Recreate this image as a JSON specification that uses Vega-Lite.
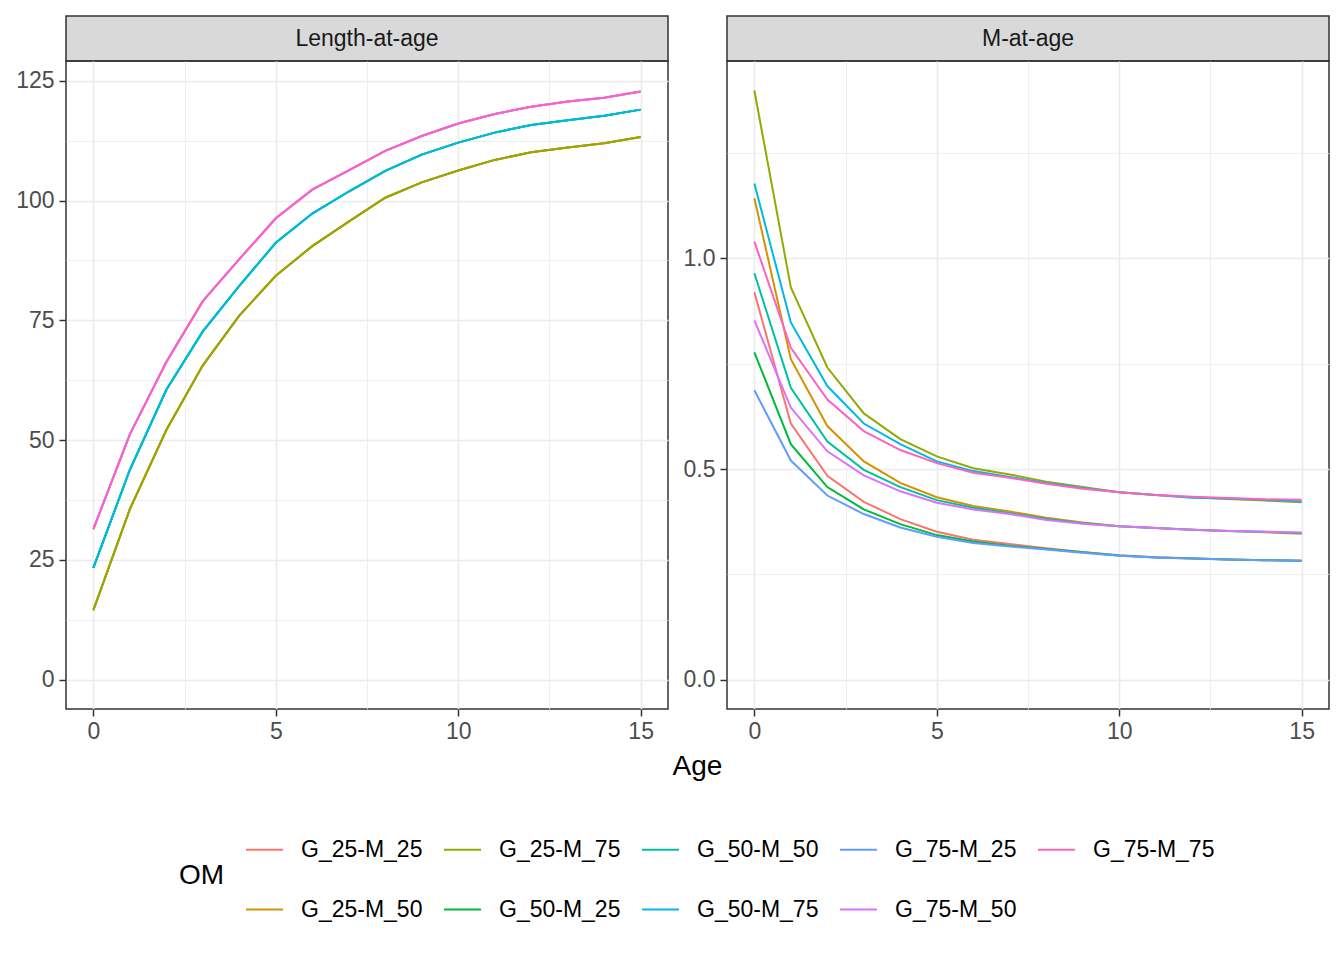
{
  "$schema": "https://vega.github.io/schema/vega-lite/v6.json",
  "padding": {"left": 14, "top": 15, "right": 15, "bottom": 10},
  "config": {
    "font": "Liberation Sans",
    "view": {"stroke": "#333333", "strokeWidth": 1.5},
    "axis": {
      "domain": false,
      "gridColor": "#EBEBEB",
      "labelFontSize": 23,
      "labelColor": "#4D4D4D",
      "labelFont": "Liberation Sans",
      "tickColor": "#333333",
      "tickSize": 7,
      "tickWidth": 1.5,
      "labelPadding": 5,
      "titleFont": "Liberation Sans",
      "titleFontSize": 28,
      "titleFontWeight": "normal",
      "titleColor": "#000000"
    },
    "legend": {
      "labelFont": "Liberation Sans",
      "titleFont": "Liberation Sans"
    }
  },
  "datasets": {
    "om": [
      {"OM":"G_25-M_25","Age":0,"L":14.5,"M":0.920},{"OM":"G_25-M_25","Age":1,"L":35.6,"M":0.608},{"OM":"G_25-M_25","Age":2,"L":52.1,"M":0.484},{"OM":"G_25-M_25","Age":3,"L":65.6,"M":0.422},{"OM":"G_25-M_25","Age":4,"L":76.0,"M":0.381},{"OM":"G_25-M_25","Age":5,"L":84.3,"M":0.351},{"OM":"G_25-M_25","Age":6,"L":90.5,"M":0.332},{"OM":"G_25-M_25","Age":7,"L":95.6,"M":0.322},{"OM":"G_25-M_25","Age":8,"L":100.6,"M":0.312},{"OM":"G_25-M_25","Age":9,"L":103.8,"M":0.303},{"OM":"G_25-M_25","Age":10,"L":106.3,"M":0.295},{"OM":"G_25-M_25","Age":11,"L":108.5,"M":0.2905},{"OM":"G_25-M_25","Age":12,"L":110.1,"M":0.288},{"OM":"G_25-M_25","Age":13,"L":111.1,"M":0.285},{"OM":"G_25-M_25","Age":14,"L":112.0,"M":0.2835},{"OM":"G_25-M_25","Age":15,"L":113.3,"M":0.282},
      {"OM":"G_25-M_50","Age":0,"L":14.5,"M":1.143},{"OM":"G_25-M_50","Age":1,"L":35.6,"M":0.761},{"OM":"G_25-M_50","Age":2,"L":52.1,"M":0.602},{"OM":"G_25-M_50","Age":3,"L":65.6,"M":0.518},{"OM":"G_25-M_50","Age":4,"L":76.0,"M":0.467},{"OM":"G_25-M_50","Age":5,"L":84.3,"M":0.433},{"OM":"G_25-M_50","Age":6,"L":90.5,"M":0.412},{"OM":"G_25-M_50","Age":7,"L":95.6,"M":0.399},{"OM":"G_25-M_50","Age":8,"L":100.6,"M":0.384},{"OM":"G_25-M_50","Age":9,"L":103.8,"M":0.373},{"OM":"G_25-M_50","Age":10,"L":106.3,"M":0.364},{"OM":"G_25-M_50","Age":11,"L":108.5,"M":0.360},{"OM":"G_25-M_50","Age":12,"L":110.1,"M":0.356},{"OM":"G_25-M_50","Age":13,"L":111.1,"M":0.353},{"OM":"G_25-M_50","Age":14,"L":112.0,"M":0.350},{"OM":"G_25-M_50","Age":15,"L":113.3,"M":0.346},
      {"OM":"G_25-M_75","Age":0,"L":14.5,"M":1.399},{"OM":"G_25-M_75","Age":1,"L":35.6,"M":0.931},{"OM":"G_25-M_75","Age":2,"L":52.1,"M":0.741},{"OM":"G_25-M_75","Age":3,"L":65.6,"M":0.632},{"OM":"G_25-M_75","Age":4,"L":76.0,"M":0.571},{"OM":"G_25-M_75","Age":5,"L":84.3,"M":0.530},{"OM":"G_25-M_75","Age":6,"L":90.5,"M":0.502},{"OM":"G_25-M_75","Age":7,"L":95.6,"M":0.487},{"OM":"G_25-M_75","Age":8,"L":100.6,"M":0.470},{"OM":"G_25-M_75","Age":9,"L":103.8,"M":0.457},{"OM":"G_25-M_75","Age":10,"L":106.3,"M":0.445},{"OM":"G_25-M_75","Age":11,"L":108.5,"M":0.438},{"OM":"G_25-M_75","Age":12,"L":110.1,"M":0.433},{"OM":"G_25-M_75","Age":13,"L":111.1,"M":0.429},{"OM":"G_25-M_75","Age":14,"L":112.0,"M":0.425},{"OM":"G_25-M_75","Age":15,"L":113.3,"M":0.421},
      {"OM":"G_50-M_25","Age":0,"L":23.3,"M":0.777},{"OM":"G_50-M_25","Age":1,"L":43.8,"M":0.559},{"OM":"G_50-M_25","Age":2,"L":60.5,"M":0.457},{"OM":"G_50-M_25","Age":3,"L":72.7,"M":0.404},{"OM":"G_50-M_25","Age":4,"L":82.2,"M":0.369},{"OM":"G_50-M_25","Age":5,"L":91.2,"M":0.343},{"OM":"G_50-M_25","Age":6,"L":97.3,"M":0.328},{"OM":"G_50-M_25","Age":7,"L":101.9,"M":0.318},{"OM":"G_50-M_25","Age":8,"L":106.2,"M":0.310},{"OM":"G_50-M_25","Age":9,"L":109.6,"M":0.302},{"OM":"G_50-M_25","Age":10,"L":112.1,"M":0.2945},{"OM":"G_50-M_25","Age":11,"L":114.2,"M":0.290},{"OM":"G_50-M_25","Age":12,"L":115.8,"M":0.2875},{"OM":"G_50-M_25","Age":13,"L":116.8,"M":0.285},{"OM":"G_50-M_25","Age":14,"L":117.7,"M":0.2835},{"OM":"G_50-M_25","Age":15,"L":119.0,"M":0.282},
      {"OM":"G_50-M_50","Age":0,"L":23.3,"M":0.965},{"OM":"G_50-M_50","Age":1,"L":43.8,"M":0.693},{"OM":"G_50-M_50","Age":2,"L":60.5,"M":0.565},{"OM":"G_50-M_50","Age":3,"L":72.7,"M":0.498},{"OM":"G_50-M_50","Age":4,"L":82.2,"M":0.457},{"OM":"G_50-M_50","Age":5,"L":91.2,"M":0.426},{"OM":"G_50-M_50","Age":6,"L":97.3,"M":0.408},{"OM":"G_50-M_50","Age":7,"L":101.9,"M":0.395},{"OM":"G_50-M_50","Age":8,"L":106.2,"M":0.381},{"OM":"G_50-M_50","Age":9,"L":109.6,"M":0.371},{"OM":"G_50-M_50","Age":10,"L":112.1,"M":0.364},{"OM":"G_50-M_50","Age":11,"L":114.2,"M":0.360},{"OM":"G_50-M_50","Age":12,"L":115.8,"M":0.356},{"OM":"G_50-M_50","Age":13,"L":116.8,"M":0.353},{"OM":"G_50-M_50","Age":14,"L":117.7,"M":0.351},{"OM":"G_50-M_50","Age":15,"L":119.0,"M":0.348},
      {"OM":"G_50-M_75","Age":0,"L":23.3,"M":1.178},{"OM":"G_50-M_75","Age":1,"L":43.8,"M":0.848},{"OM":"G_50-M_75","Age":2,"L":60.5,"M":0.697},{"OM":"G_50-M_75","Age":3,"L":72.7,"M":0.608},{"OM":"G_50-M_75","Age":4,"L":82.2,"M":0.559},{"OM":"G_50-M_75","Age":5,"L":91.2,"M":0.518},{"OM":"G_50-M_75","Age":6,"L":97.3,"M":0.495},{"OM":"G_50-M_75","Age":7,"L":101.9,"M":0.481},{"OM":"G_50-M_75","Age":8,"L":106.2,"M":0.467},{"OM":"G_50-M_75","Age":9,"L":109.6,"M":0.455},{"OM":"G_50-M_75","Age":10,"L":112.1,"M":0.445},{"OM":"G_50-M_75","Age":11,"L":114.2,"M":0.438},{"OM":"G_50-M_75","Age":12,"L":115.8,"M":0.432},{"OM":"G_50-M_75","Age":13,"L":116.8,"M":0.430},{"OM":"G_50-M_75","Age":14,"L":117.7,"M":0.427},{"OM":"G_50-M_75","Age":15,"L":119.0,"M":0.423},
      {"OM":"G_75-M_25","Age":0,"L":31.4,"M":0.687},{"OM":"G_75-M_25","Age":1,"L":51.2,"M":0.520},{"OM":"G_75-M_25","Age":2,"L":66.3,"M":0.437},{"OM":"G_75-M_25","Age":3,"L":79.0,"M":0.393},{"OM":"G_75-M_25","Age":4,"L":87.8,"M":0.361},{"OM":"G_75-M_25","Age":5,"L":96.3,"M":0.339},{"OM":"G_75-M_25","Age":6,"L":102.3,"M":0.324},{"OM":"G_75-M_25","Age":7,"L":106.3,"M":0.316},{"OM":"G_75-M_25","Age":8,"L":110.4,"M":0.309},{"OM":"G_75-M_25","Age":9,"L":113.5,"M":0.301},{"OM":"G_75-M_25","Age":10,"L":116.1,"M":0.294},{"OM":"G_75-M_25","Age":11,"L":118.1,"M":0.290},{"OM":"G_75-M_25","Age":12,"L":119.6,"M":0.2875},{"OM":"G_75-M_25","Age":13,"L":120.7,"M":0.285},{"OM":"G_75-M_25","Age":14,"L":121.5,"M":0.2835},{"OM":"G_75-M_25","Age":15,"L":122.8,"M":0.282},
      {"OM":"G_75-M_50","Age":0,"L":31.4,"M":0.853},{"OM":"G_75-M_50","Age":1,"L":51.2,"M":0.646},{"OM":"G_75-M_50","Age":2,"L":66.3,"M":0.542},{"OM":"G_75-M_50","Age":3,"L":79.0,"M":0.485},{"OM":"G_75-M_50","Age":4,"L":87.8,"M":0.447},{"OM":"G_75-M_50","Age":5,"L":96.3,"M":0.420},{"OM":"G_75-M_50","Age":6,"L":102.3,"M":0.404},{"OM":"G_75-M_50","Age":7,"L":106.3,"M":0.393},{"OM":"G_75-M_50","Age":8,"L":110.4,"M":0.379},{"OM":"G_75-M_50","Age":9,"L":113.5,"M":0.370},{"OM":"G_75-M_50","Age":10,"L":116.1,"M":0.364},{"OM":"G_75-M_50","Age":11,"L":118.1,"M":0.360},{"OM":"G_75-M_50","Age":12,"L":119.6,"M":0.356},{"OM":"G_75-M_50","Age":13,"L":120.7,"M":0.353},{"OM":"G_75-M_50","Age":14,"L":121.5,"M":0.351},{"OM":"G_75-M_50","Age":15,"L":122.8,"M":0.349},
      {"OM":"G_75-M_75","Age":0,"L":31.4,"M":1.040},{"OM":"G_75-M_75","Age":1,"L":51.2,"M":0.788},{"OM":"G_75-M_75","Age":2,"L":66.3,"M":0.665},{"OM":"G_75-M_75","Age":3,"L":79.0,"M":0.590},{"OM":"G_75-M_75","Age":4,"L":87.8,"M":0.545},{"OM":"G_75-M_75","Age":5,"L":96.3,"M":0.514},{"OM":"G_75-M_75","Age":6,"L":102.3,"M":0.491},{"OM":"G_75-M_75","Age":7,"L":106.3,"M":0.479},{"OM":"G_75-M_75","Age":8,"L":110.4,"M":0.465},{"OM":"G_75-M_75","Age":9,"L":113.5,"M":0.453},{"OM":"G_75-M_75","Age":10,"L":116.1,"M":0.445},{"OM":"G_75-M_75","Age":11,"L":118.1,"M":0.438},{"OM":"G_75-M_75","Age":12,"L":119.6,"M":0.434},{"OM":"G_75-M_75","Age":13,"L":120.7,"M":0.431},{"OM":"G_75-M_75","Age":14,"L":121.5,"M":0.428},{"OM":"G_75-M_75","Age":15,"L":122.8,"M":0.427}
    ]
  },
  "columns": 2,
  "spacing": {"row": 0, "column": 59},
  "bounds": "flush",
  "concat": [
    {
      "width": 602, "height": 45,
      "data": {"values": [{"panel": "Length-at-age"}]},
      "mark": {"type": "text", "fontSize": 23, "color": "#1A1A1A", "font": "Liberation Sans"},
      "encoding": {"text": {"field": "panel", "type": "nominal"}},
      "view": {"fill": "#D9D9D9", "stroke": "#333333", "strokeWidth": 1.5}
    },
    {
      "width": 602, "height": 45,
      "data": {"values": [{"panel": "M-at-age"}]},
      "mark": {"type": "text", "fontSize": 23, "color": "#1A1A1A", "font": "Liberation Sans"},
      "encoding": {"text": {"field": "panel", "type": "nominal"}},
      "view": {"fill": "#D9D9D9", "stroke": "#333333", "strokeWidth": 1.5}
    },
    {
      "width": 602, "height": 648,
      "data": {"name": "om"},
      "mark": {"type": "line", "strokeWidth": 2},
      "encoding": {
        "x": {
          "field": "Age", "type": "quantitative",
          "scale": {"domain": [-0.75, 15.75], "nice": false, "zero": false},
          "axis": {
            "title": "Age", "titleX": 631, "titlePadding": 9,
            "labelPadding": 4,
            "values": [0, 2.5, 5, 7.5, 10, 12.5, 15],
            "labelExpr": "datum.value % 5 === 0 ? datum.label : ''",
            "gridWidth": {"condition": {"test": "datum.value % 5 === 0", "value": 1.6}, "value": 0.8},
            "tickOpacity": {"condition": {"test": "datum.value % 5 === 0", "value": 1}, "value": 0}
          }
        },
        "y": {
          "field": "L", "type": "quantitative",
          "scale": {"domain": [-6.15, 129.15], "nice": false, "zero": false},
          "axis": {
            "title": null,
            "values": [0, 12.5, 25, 37.5, 50, 62.5, 75, 87.5, 100, 112.5, 125],
            "labelExpr": "datum.value % 25 === 0 ? datum.label : ''",
            "gridWidth": {"condition": {"test": "datum.value % 25 === 0", "value": 1.6}, "value": 0.8},
            "tickOpacity": {"condition": {"test": "datum.value % 25 === 0", "value": 1}, "value": 0}
          }
        },
        "color": {
          "field": "OM", "type": "nominal",
          "scale": {
            "domain": ["G_25-M_25","G_25-M_75","G_50-M_50","G_75-M_25","G_75-M_75","G_25-M_50","G_50-M_25","G_50-M_75","G_75-M_50"],
            "range": ["#F8766D","#93AA00","#00C19F","#619CFF","#FF61C3","#D39200","#00BA38","#00B9E3","#DB72FB"]
          },
          "legend": {
            "title": "OM",
            "orient": "none",
            "legendX": 113,
            "legendY": 814,
            "direction": "horizontal",
            "columns": 5,
            "titleOrient": "left",
            "titleAnchor": "middle",
            "titleBaseline": "middle",
            "titleFontSize": 28,
            "titleFontWeight": "normal",
            "titleColor": "#000000",
            "titlePadding": 20,
            "labelFontSize": 23,
            "labelColor": "#000000",
            "symbolType": "stroke",
            "symbolStrokeWidth": 2,
            "symbolSize": 1369,
            "labelOffset": 17,
            "columnPadding": 17,
            "rowPadding": 28
          }
        }
      }
    },
    {
      "width": 602, "height": 648,
      "data": {"name": "om"},
      "mark": {"type": "line", "strokeWidth": 2},
      "encoding": {
        "x": {
          "field": "Age", "type": "quantitative",
          "scale": {"domain": [-0.75, 15.75], "nice": false, "zero": false},
          "axis": {
            "title": null,
            "labelPadding": 4,
            "values": [0, 2.5, 5, 7.5, 10, 12.5, 15],
            "labelExpr": "datum.value % 5 === 0 ? datum.label : ''",
            "gridWidth": {"condition": {"test": "datum.value % 5 === 0", "value": 1.6}, "value": 0.8},
            "tickOpacity": {"condition": {"test": "datum.value % 5 === 0", "value": 1}, "value": 0}
          }
        },
        "y": {
          "field": "M", "type": "quantitative",
          "scale": {"domain": [-0.07, 1.469], "nice": false, "zero": false},
          "axis": {
            "title": null,
            "format": ".1f",
            "values": [0, 0.25, 0.5, 0.75, 1.0, 1.25],
            "labelExpr": "(datum.value * 4) % 2 === 0 ? datum.label : ''",
            "gridWidth": {"condition": {"test": "(datum.value * 4) % 2 === 0", "value": 1.6}, "value": 0.8},
            "tickOpacity": {"condition": {"test": "(datum.value * 4) % 2 === 0", "value": 1}, "value": 0}
          }
        },
        "color": {"field": "OM", "type": "nominal"}
      }
    }
  ]
}
